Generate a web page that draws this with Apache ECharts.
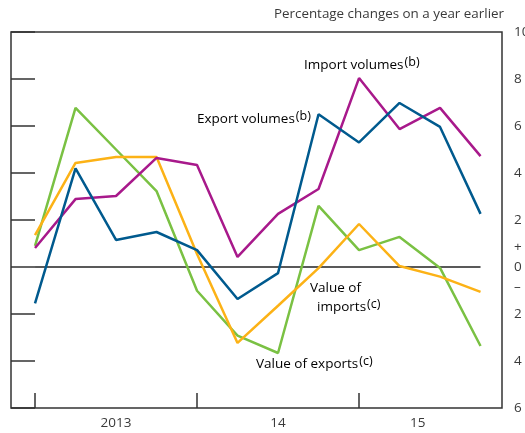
<!DOCTYPE html>
<html><head><meta charset="utf-8">
<script src="https://cdn.jsdelivr.net/npm/echarts@6/dist/echarts.min.js"></script>
<style>html,body{margin:0;padding:0;background:#fff}#c{width:525px;height:433px}</style>
</head><body><div id="c"></div>
<script>
// Quarters 2013 Q1 .. 2015 Q4
const quarters = ['2013 Q1','2013 Q2','2013 Q3','2013 Q4','2014 Q1','2014 Q2','2014 Q3','2014 Q4','2015 Q1','2015 Q2','2015 Q3','2015 Q4'];
const exportVolumes  = [-1.55, 4.2, 1.15, 1.49, 0.72, -1.36, -0.26, 6.5, 5.3, 6.98, 5.96, 2.26];
const importVolumes  = [0.81, 2.89, 3.02, 4.64, 4.34, 0.43, 2.26, 3.32, 8.04, 5.87, 6.77, 4.72];
const valueOfExports = [0.9, 6.77, 5.0, 3.23, -1.01, -2.92, -3.66, 2.6, 0.72, 1.28, -0.04, -3.36];
const valueOfImports = [1.36, 4.43, 4.68, 4.68, 0.55, -3.23, -1.65, -0.05, 1.83, 0.04, -0.41, -1.06];
const zeroLine = [0, 0];            // drawn from first to last quarter
const yearLabels = ['2013', '14', '15'];
const yearTickIdx = [0, 4, 8];      // quarter index of each year tick
const yearLabelIdx = [2, 6, 9.45];  // quarter position of each year label
const yMin = -6, yMax = 10, yStep = 2;

const FONT = '"Open Sans", sans-serif';
const TXT = '#3a3a3a';
const pairs = arr => arr.map((v, i) => [i, v]);

const chart = echarts.init(document.getElementById('c'), null, {renderer: 'canvas'});
const sup = {fontSize: 12.5, fontFamily: FONT, color: TXT, verticalAlign: 'top', lineHeight: 14, padding: [0, 0, 0, 1]};
const main = {fontSize: 13.5, fontFamily: FONT, color: TXT, lineHeight: 19};

chart.setOption({
  animation: false,
  grid: {left: 11, right: 23, top: 32, bottom: 25, show: true, borderColor: '#333', borderWidth: 1.5,
    containLabel: false, outerBoundsMode: 'none'},
  xAxis: {
    type: 'value', min: -0.593, max: 11.53,
    axisLine: {show: false, onZero: false}, splitLine: {show: false},
    axisTick: {show: true, inside: true, length: 15, customValues: yearTickIdx, lineStyle: {color: '#333', width: 1.5}},
    axisLabel: {show: true, customValues: yearLabelIdx, margin: 8, fontSize: 13.5, fontFamily: FONT, color: TXT,
      formatter: v => yearLabels[yearLabelIdx.indexOf(v)] || ''}
  },
  yAxis: [{
    type: 'value', position: 'right', min: yMin, max: yMax, interval: yStep,
    axisLine: {show: false}, splitLine: {show: false},
    axisTick: {show: true, inside: true, length: 14, lineStyle: {color: '#333', width: 1.5}},
    axisLabel: {margin: 12, fontSize: 13.5, fontFamily: FONT, color: TXT, lineHeight: 20,
      formatter: v => v === 0 ? '+\n0\n–' : String(Math.abs(v))}
  }, {
    type: 'value', position: 'left', min: yMin, max: yMax, interval: yStep,
    axisLine: {show: false}, splitLine: {show: false},
    axisTick: {show: true, inside: true, length: 15, lineStyle: {color: '#333', width: 1.5}},
    axisLabel: {show: false}
  }],
  series: [
    {name: 'zero', type: 'line', data: [[0, zeroLine[0]], [quarters.length - 1, zeroLine[1]]], symbol: 'none', silent: true, z: 1,
      lineStyle: {color: '#222', width: 1.3}},
    {name: 'Value of exports', type: 'line', data: pairs(valueOfExports), symbol: 'none', z: 2, lineStyle: {color: '#7ac143', width: 2.5}},
    {name: 'Value of imports', type: 'line', data: pairs(valueOfImports), symbol: 'none', z: 3, lineStyle: {color: '#fcb216', width: 2.5}},
    {name: 'Import volumes', type: 'line', data: pairs(importVolumes), symbol: 'none', z: 4, lineStyle: {color: '#a8198b', width: 2.5}},
    {name: 'Export volumes', type: 'line', data: pairs(exportVolumes), symbol: 'none', z: 5, lineStyle: {color: '#005a8e', width: 2.5}}
  ],
  graphic: [
    {type: 'text', right: 21, top: 8, style: {text: 'Percentage changes on a year earlier', font: '13.4px ' + FONT, fill: TXT}},
    {type: 'text', left: 304, top: 56, style: {text: '{m|Import volumes}{s|(b)}', rich: {m: main, s: sup}}},
    {type: 'text', left: 197, top: 110, style: {text: '{m|Export volumes}{s|(b)}', rich: {m: main, s: sup}}},
    {type: 'text', left: 310, top: 281, style: {text: '{m|Value of}\n{m|  imports}{s|(c)}', rich: {m: main, s: sup}}},
    {type: 'text', left: 256, top: 355, style: {text: '{m|Value of exports}{s|(c)}', rich: {m: main, s: sup}}}
  ]
});
</script></body></html>
